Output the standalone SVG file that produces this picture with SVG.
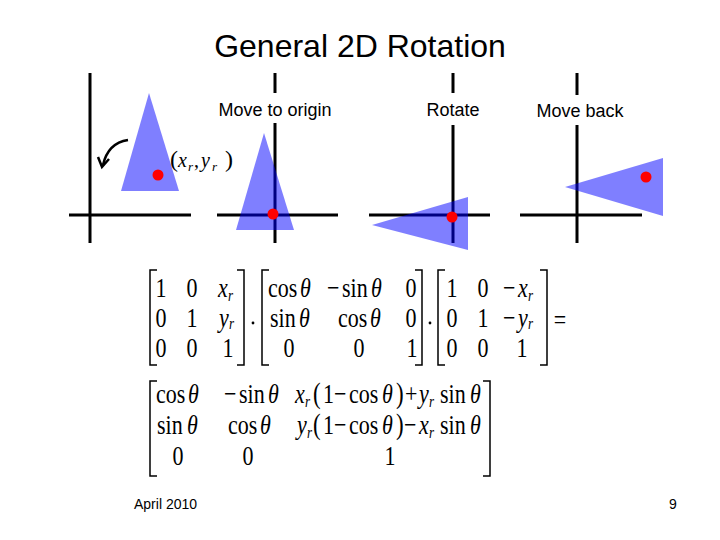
<svg xmlns="http://www.w3.org/2000/svg" width="720" height="540" viewBox="0 0 720 540">
<style>
.sans{font-family:"Liberation Sans",Arial,sans-serif;fill:#000}
.t{font-size:32px}
.lab{font-size:18px;text-anchor:middle}
.foot{font-size:14px}
.m{font-family:"Liberation Serif","Times New Roman",serif;font-size:22px;fill:#000}
.c{text-anchor:middle}
.i{font-style:italic}
.s{font-size:13px;font-style:italic}
.p{font-size:23px}
.ax{stroke:#000;stroke-width:3;fill:none}
.tri{fill:#0000ff;fill-opacity:0.5}
.dot{fill:#ff0000}
.br{stroke:#000;stroke-width:1.5;fill:none}
</style>
<text class="sans t" x="360" y="57" text-anchor="middle">General 2D Rotation</text>

<g id="panel-original">
<path class="ax" d="M90,73V243M69,215H191"/>
<polygon class="tri" points="149,93 121,191 179,191"/>
<circle class="dot" cx="158" cy="175" r="5.5"/>
<path d="M128,140 Q108,143 103,165" stroke="#000" stroke-width="2.5" fill="none"/>
<path d="M98,157 L102,167 L109,159" stroke="#000" stroke-width="2.5" fill="none"/>
<text class="m" y="167"><tspan font-size="24" x="170">(</tspan><tspan class="i" x="178" font-size="20">x</tspan><tspan class="s" x="188" dy="4" font-size="12">r</tspan><tspan dy="-4" font-size="20" x="194">,</tspan><tspan class="i" x="201" font-size="20">y</tspan><tspan class="s" x="212" dy="4" font-size="12">r</tspan><tspan font-size="24" dy="-4" x="225">)</tspan></text>
</g>

<g id="panel-move-to-origin">
<path class="ax" d="M275,73V93M275,123V243M217,215H338"/>
<polygon class="tri" points="264,133 236,230 294,230"/>
<circle class="dot" cx="273" cy="214" r="5.5"/>
<text class="sans lab" x="275" y="116">Move to origin</text>
</g>

<g id="panel-rotate">
<path class="ax" d="M453,73V93M453,125V243M369,215H490"/>
<polygon class="tri" points="372,225 468,197 468,250"/>
<circle class="dot" cx="452" cy="217" r="5.5"/>
<text class="sans lab" x="453" y="116">Rotate</text>
</g>

<g id="panel-move-back">
<path class="ax" d="M577,73V95M577,125V243M520,215H642"/>
<polygon class="tri" points="565,187 663,158 663,216"/>
<circle class="dot" cx="646" cy="177" r="5.5"/>
<text class="sans lab" x="580" y="117">Move back</text>
</g>

<g id="brackets">
<path class="br" d="M157,270H150V365H157M237,270H244V365H237"/>
<path class="br" d="M269,270H262V365H269M415,270H422V365H415"/>
<path class="br" d="M445,270H438V365H445M540,270H547V365H540"/>
<path class="br" d="M157,381H150V476H157M483,381H490V476H483"/>
<circle cx="253" cy="323" r="1.4" fill="#000"/>
<circle cx="430" cy="323" r="1.4" fill="#000"/>
</g>

<g id="matrix-translate" transform="matrix(1 0 0 1.25 0 -81.25)">
<text class="m c" x="161" y="302.6">1</text><text class="m c" x="192" y="302.6">0</text>
<text class="m" y="302.6"><tspan class="i" x="218">x</tspan><tspan class="s" x="228" dy="3">r</tspan></text>
<text class="m c" x="161" y="326.6">0</text><text class="m c" x="192" y="326.6">1</text>
<text class="m" y="326.6"><tspan class="i" x="219">y</tspan><tspan class="s" x="229" dy="2">r</tspan></text>
<text class="m c" x="161" y="350.6">0</text><text class="m c" x="192" y="350.6">0</text><text class="m c" x="228" y="350.6">1</text>
</g>

<g id="matrix-rotate" transform="matrix(1 0 0 1.25 0 -81.25)">
<text class="m" y="302.6"><tspan x="268">cos</tspan><tspan class="i" x="300">θ</tspan></text>
<text class="m" y="302.6"><tspan x="327">−</tspan><tspan x="342">sin</tspan><tspan class="i" x="371">θ</tspan></text>
<text class="m c" x="411" y="302.6">0</text>
<text class="m" y="326.6"><tspan x="270">sin</tspan><tspan class="i" x="299">θ</tspan></text>
<text class="m" y="326.6"><tspan x="338">cos</tspan><tspan class="i" x="370">θ</tspan></text>
<text class="m c" x="411" y="326.6">0</text>
<text class="m c" x="289" y="350.6">0</text><text class="m c" x="359" y="350.6">0</text><text class="m c" x="412" y="350.6">1</text>
</g>

<g id="matrix-translate-back" transform="matrix(1 0 0 1.25 0 -81.25)">
<text class="m c" x="452" y="302.6">1</text><text class="m c" x="483" y="302.6">0</text>
<text class="m" y="302.6"><tspan x="503">−</tspan><tspan class="i" x="518">x</tspan><tspan class="s" x="528" dy="3">r</tspan></text>
<text class="m c" x="452" y="326.6">0</text><text class="m c" x="483" y="326.6">1</text>
<text class="m" y="326.6"><tspan x="503">−</tspan><tspan class="i" x="518">y</tspan><tspan class="s" x="528" dy="2">r</tspan></text>
<text class="m c" x="452" y="350.6">0</text><text class="m c" x="483" y="350.6">0</text><text class="m c" x="522" y="350.6">1</text>
<text class="m c" x="560" y="328">=</text>
</g>

<g id="matrix-result" transform="matrix(1 0 0 1.25 0 -108.5)">
<text class="m" y="409.2"><tspan x="156">cos</tspan><tspan class="i" x="188">θ</tspan></text>
<text class="m" y="409.2"><tspan x="224">−</tspan><tspan x="239">sin</tspan><tspan class="i" x="268">θ</tspan></text>
<text class="m" y="409.2"><tspan class="i" x="295">x</tspan><tspan class="s" x="305" dy="3">r</tspan><tspan class="p" dy="-3" x="313">(</tspan><tspan x="323">1</tspan><tspan x="334">−</tspan><tspan x="349">cos</tspan><tspan class="i" x="382">θ</tspan><tspan class="p" x="396">)</tspan><tspan x="405">+</tspan><tspan class="i" x="419">y</tspan><tspan class="s" x="429" dy="3">r</tspan><tspan dy="-3" x="440">sin</tspan><tspan class="i" x="470">θ</tspan></text>
<text class="m" y="434"><tspan x="157">sin</tspan><tspan class="i" x="187">θ</tspan></text>
<text class="m" y="434"><tspan x="228">cos</tspan><tspan class="i" x="260">θ</tspan></text>
<text class="m" y="434"><tspan class="i" x="297">y</tspan><tspan class="s" x="307" dy="3">r</tspan><tspan class="p" dy="-3" x="313">(</tspan><tspan x="323">1</tspan><tspan x="334">−</tspan><tspan x="349">cos</tspan><tspan class="i" x="382">θ</tspan><tspan class="p" x="396">)</tspan><tspan x="404">−</tspan><tspan class="i" x="419">x</tspan><tspan class="s" x="429" dy="3">r</tspan><tspan dy="-3" x="440">sin</tspan><tspan class="i" x="470">θ</tspan></text>
<text class="m c" x="178" y="458.8">0</text><text class="m c" x="248" y="458.8">0</text><text class="m c" x="390" y="458.8">1</text>
</g>

<text class="sans foot" x="134" y="509">April 2010</text>
<text class="sans foot" x="669" y="509">9</text>
</svg>
